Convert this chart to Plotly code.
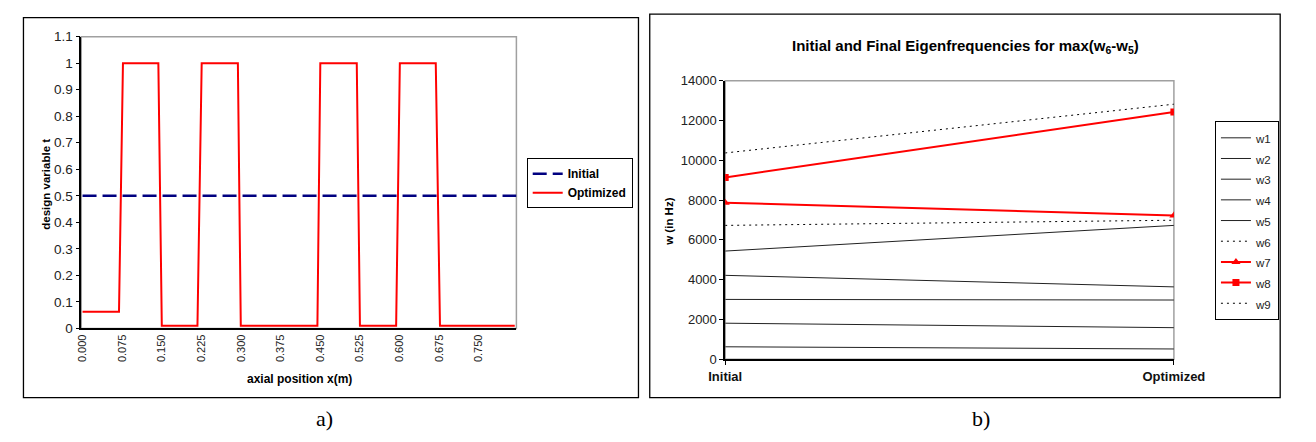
import plotly.graph_objects as go

# ---- panel a): design variable along the bar ----
axial_x = [0.0, 0.069, 0.0765, 0.1435, 0.150, 0.2175, 0.2255, 0.294, 0.2995,
           0.4445, 0.450, 0.519, 0.525, 0.5935, 0.6005, 0.6685, 0.6765, 0.818]
t_optimized = [0.063, 0.063, 1, 1, 0.01, 0.01, 1, 1, 0.01,
               0.01, 1, 1, 0.01, 0.01, 1, 1, 0.01, 0.01]
initial_x = [0.0, 0.822]
t_initial = [0.5, 0.5]
x_ticks = [0.0, 0.075, 0.150, 0.225, 0.300, 0.375, 0.450, 0.525, 0.600, 0.675, 0.750]

# ---- panel b): eigenfrequencies before / after ----
stages = ["Initial", "Optimized"]
mode_names = ["w1", "w2", "w3", "w4", "w5", "w6", "w7", "w8", "w9"]
w_initial = [630, 1815, 3010, 4220, 5440, 6730, 7870, 9140, 10370]
w_optimized = [520, 1590, 2980, 3640, 6730, 6990, 7230, 12430, 12820]

W, H = 1316, 442
FONT = "Liberation Sans"


def px_x(p):
    return p / W


def px_y(p):
    return 1 - p / H


fig = go.Figure()

fig.add_trace(go.Scatter(
    x=initial_x, y=t_initial, mode="lines", name="Initial",
    line=dict(color="#000080", width=2.5, dash="14px,6px"),
    xaxis="x", yaxis="y", legend="legend"))
fig.add_trace(go.Scatter(
    x=axial_x, y=t_optimized, mode="lines", name="Optimized",
    line=dict(color="#ff0000", width=2),
    xaxis="x", yaxis="y", legend="legend"))

styles = {
    "w6": dict(line=dict(color="black", width=1, dash="2px,4px"), mode="lines"),
    "w9": dict(line=dict(color="black", width=1, dash="2px,4px"), mode="lines"),
    "w7": dict(line=dict(color="#ff0000", width=2), mode="lines+markers",
               marker=dict(symbol="triangle-up", size=8, color="#ff0000")),
    "w8": dict(line=dict(color="#ff0000", width=2), mode="lines+markers",
               marker=dict(symbol="square", size=7, color="#ff0000")),
}
for name, w0, w1 in zip(mode_names, w_initial, w_optimized):
    st = styles.get(name, dict(line=dict(color="#222222", width=1), mode="lines"))
    fig.add_trace(go.Scatter(
        x=[0, 1], y=[w0, w1],
        name=f"<span style='font-size:11.5px'>{name}</span>",
        xaxis="x2", yaxis="y2", legend="legend2", **st))

ytick_font = dict(family=FONT, size=13.5, color="#222222")
xtick_font = dict(family=FONT, size=11, color="#222222")

fig.update_layout(
    width=W, height=H, autosize=False,
    margin=dict(l=0, r=0, t=0, b=0),
    paper_bgcolor="white", plot_bgcolor="white",
    showlegend=True,
    xaxis=dict(
        domain=[px_x(66.7), px_x(518.3)], range=[-0.0024, 0.8211],
        tickmode="array", tickvals=x_ticks,
        ticktext=[f"{v:.3f}" for v in x_ticks], tickangle=-90,
        tickfont=xtick_font, showgrid=False, zeroline=False,
        showline=True, linecolor="black", linewidth=1.5,
        ticks="", anchor="y"),
    yaxis=dict(
        domain=[px_y(332.7), px_y(30.7)], range=[0, 1.1], dtick=0.1,
        tick0=0, tickfont=ytick_font, showgrid=False, zeroline=False,
        showline=True, linecolor="black", linewidth=1.5,
        ticks="outside", ticklen=4, tickcolor="black", anchor="x"),
    xaxis2=dict(
        domain=[px_x(735), px_x(1200.7)], range=[0, 1],
        tickmode="array", tickvals=[0, 1],
        ticktext=[f"<b>{s}</b>" for s in stages],
        tickfont=dict(family=FONT, size=13, color="#111111"),
        showgrid=False, zeroline=False,
        showline=True, linecolor="black", linewidth=1.5,
        ticks="outside", ticklen=4, tickcolor="black", anchor="y2"),
    yaxis2=dict(
        domain=[px_y(364.7), px_y(76.3)], range=[0, 14000], dtick=2000,
        tickformat="d",
        tickfont=dict(family=FONT, size=13, color="#222222"),
        showgrid=False, zeroline=False,
        showline=True, linecolor="black", linewidth=1.5,
        ticks="outside", ticklen=4, tickcolor="black", anchor="x2"),
    legend=dict(
        x=px_x(529), y=px_y(156.5), xanchor="left", yanchor="top",
        bordercolor="black", borderwidth=1, bgcolor="white",
        font=dict(family=FONT, size=12, color="black", weight="bold"),
        itemwidth=30, tracegroupgap=0),
    legend2=dict(
        x=px_x(1243.3), y=px_y(118.5), xanchor="left", yanchor="top",
        bordercolor="black", borderwidth=1, bgcolor="white",
        font=dict(family=FONT, size=13.6, color="#222222"),
        itemwidth=30, tracegroupgap=0),
)

# plot-area borders (grey top/right edges)
for xd, yd in (("x domain", "y domain"), ("x2 domain", "y2 domain")):
    fig.add_shape(type="rect", xref=xd, yref=yd, x0=0, x1=1, y0=0, y1=1,
                  line=dict(color="#a0a0a0", width=1.5), layer="below")

# panel frames
fig.add_shape(type="rect", xref="paper", yref="paper",
              x0=px_x(6.7), x1=px_x(645), y0=px_y(404.3), y1=px_y(11),
              line=dict(color="black", width=1.3))
fig.add_shape(type="rect", xref="paper", yref="paper",
              x0=px_x(656.7), x1=px_x(1311), y0=px_y(404.3), y1=px_y(7.3),
              line=dict(color="black", width=1.3))

annotations = [
    dict(x=px_x(30), y=px_y(183), text="design variable t", textangle=-90,
         font=dict(family=FONT, size=11.5, color="black", weight="bold")),
    dict(x=px_x(293), y=px_y(385), text="axial position x(m)",
         font=dict(family=FONT, size=12, color="black", weight="bold")),
    dict(x=px_x(677), y=px_y(222), text="w (in Hz)", textangle=-90,
         font=dict(family=FONT, size=11.5, color="black", weight="bold")),
    dict(x=px_x(984), y=px_y(41),
         text="Initial and Final Eigenfrequencies for max(w<sub>6</sub>-w<sub>5</sub>)",
         font=dict(family=FONT, size=15, color="black", weight="bold")),
    dict(x=px_x(319), y=px_y(426), text="a)",
         font=dict(family="Liberation Serif", size=22, color="black")),
    dict(x=px_x(1000), y=px_y(426), text="b)",
         font=dict(family="Liberation Serif", size=22, color="black")),
]
for a in annotations:
    fig.add_annotation(xref="paper", yref="paper", showarrow=False,
                       xanchor="center", yanchor="middle", **a)

fig.write_html("out.html")
